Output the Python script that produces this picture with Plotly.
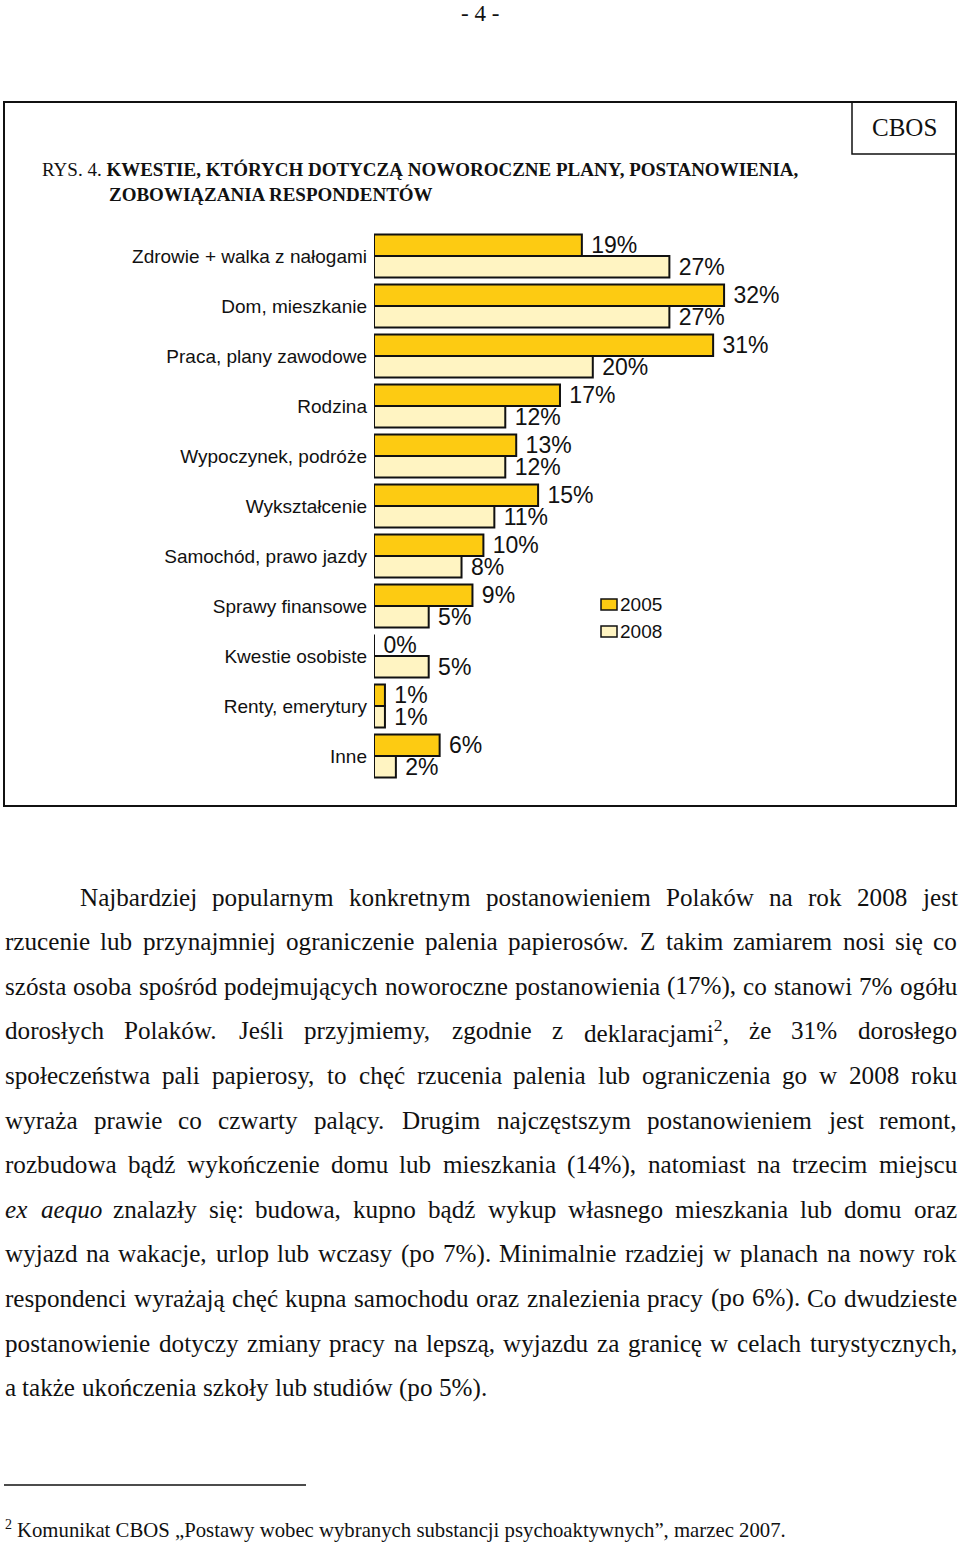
import re
import plotly.graph_objects as go

# ---------------- data ----------------
categories = [
    "Zdrowie + walka z nałogami",
    "Dom, mieszkanie",
    "Praca, plany zawodowe",
    "Rodzina",
    "Wypoczynek, podróże",
    "Wykształcenie",
    "Samochód, prawo jazdy",
    "Sprawy finansowe",
    "Kwestie osobiste",
    "Renty, emerytury",
    "Inne",
]
values_2005 = [19, 32, 31, 17, 13, 15, 10, 9, 0, 1, 6]
values_2008 = [27, 27, 20, 12, 12, 11, 8, 5, 5, 1, 2]
series_names = ["2005", "2008"]

page_number = "- 4 -"
title_line1 = "RYS. 4. <b>KWESTIE, KTÓRYCH DOTYCZĄ NOWOROCZNE PLANY, POSTANOWIENIA,</b>"
title_line2 = "<b>ZOBOWIĄZANIA RESPONDENTÓW</b>"
badge = "CBOS"

body_lines = [
    "Najbardziej popularnym konkretnym postanowieniem Polaków na rok 2008 jest",
    "rzucenie lub przynajmniej ograniczenie palenia papierosów. Z takim zamiarem nosi się co",
    "szósta osoba spośród podejmujących noworoczne postanowienia (17%), co stanowi 7% ogółu",
    "dorosłych Polaków. Jeśli przyjmiemy, zgodnie z deklaracjami<sup>2</sup>, że 31% dorosłego",
    "społeczeństwa pali papierosy, to chęć rzucenia palenia lub ograniczenia go w 2008 roku",
    "wyraża prawie co czwarty palący. Drugim najczęstszym postanowieniem jest remont,",
    "rozbudowa bądź wykończenie domu lub mieszkania (14%), natomiast na trzecim miejscu",
    "<i>ex</i> <i>aequo</i> znalazły się: budowa, kupno bądź wykup własnego mieszkania lub domu oraz",
    "wyjazd na wakacje, urlop lub wczasy (po 7%). Minimalnie rzadziej w planach na nowy rok",
    "respondenci wyrażają chęć kupna samochodu oraz znalezienia pracy (po 6%). Co dwudzieste",
    "postanowienie dotyczy zmiany pracy na lepszą, wyjazdu za granicę w celach turystycznych,",
    "a także ukończenia szkoły lub studiów (po 5%).",
]
footnote_mark = "2"
footnote_text = "Komunikat CBOS „Postawy wobec wybranych substancji psychoaktywnych”, marzec 2007."

# ---------------- page geometry helpers ----------------
W, H = 960, 1545
def px(x):
    return x / W
def py(y):
    return 1 - y / H

SERIF = "Liberation Serif, Times New Roman, serif"
SANS = "Liberation Sans, Arial, sans-serif"
INK = "#111111"
C2005 = "#FDCB12"
C2008 = "#FFF4C2"

# Times-Roman advance widths (per 1000 em) for justification
TW = {' ': 250, '!': 333, '%': 833, '(': 333, ')': 333, '+': 564, ',': 250, '-': 333, '.': 250,
      ':': 278, ';': 278, '„': 444, '”': 444}
for ch in "0123456789":
    TW[ch] = 500
TW.update(dict(zip("ABCDEFGHIJKLMNOPQRSTUVWXYZ",
                   [722, 667, 667, 722, 611, 556, 722, 722, 333, 389, 722, 611, 889, 722, 722, 556,
                    722, 667, 556, 611, 722, 722, 944, 722, 722, 611])))
TW.update(dict(zip("abcdefghijklmnopqrstuvwxyz",
                   [444, 500, 444, 500, 444, 333, 500, 500, 278, 278, 500, 278, 778, 500, 500, 500,
                    500, 333, 389, 278, 500, 500, 722, 500, 500, 444])))
TW.update({'ą': 444, 'ć': 444, 'ę': 444, 'ł': 278, 'ń': 500, 'ó': 500, 'ś': 389, 'ź': 444, 'ż': 444,
           'Ś': 556, 'Ż': 611, 'Ł': 611, 'Ó': 722, 'Ą': 722, 'Ę': 611})

def em_width(html):
    total = 0.0
    for m in re.finditer(r"<sup>(.*?)</sup>|<[^>]+>|([^<]+)", html):
        if m.group(1) is not None:
            total += 0.7 * sum(TW.get(c, 500) for c in m.group(1)) / 1000
        elif m.group(2) is not None:
            total += sum(TW.get(c, 500) for c in m.group(2)) / 1000
    return total

annotations = []
shapes = []

# ---------------- chart ----------------
fig = go.Figure()
for name, vals, col in [(series_names[0], values_2005, C2005), (series_names[1], values_2008, C2008)]:
    fig.add_trace(go.Bar(
        y=categories, x=vals, name=name, orientation="h",
        marker=dict(color=col, line=dict(color="#111111", width=2)),
        text=[f"\u00a0{v}%" for v in vals],
        textposition="outside", constraintext="none", cliponaxis=False,
        textfont=dict(family=SANS, size=23, color=INK),
        showlegend=False, hoverinfo="skip",
    ))

# legend (manual)
for i, (name, col) in enumerate([(series_names[0], C2005), (series_names[1], C2008)]):
    yc = 604.5 + i * 27
    shapes.append(dict(type="rect", xref="paper", yref="paper",
                       x0=px(601), x1=px(617), y0=py(yc - 5.5), y1=py(yc + 5.5),
                       fillcolor=col, line=dict(color="#111111", width=1.5)))
    annotations.append(dict(text=name, x=px(618), y=py(yc), xref="paper", yref="paper",
                            xanchor="left", yanchor="middle", showarrow=False,
                            font=dict(family=SANS, size=19, color=INK)))

# ---------------- page furniture ----------------
annotations.append(dict(text=page_number, x=px(480), y=py(13), xref="paper", yref="paper",
                        xanchor="center", yanchor="middle", showarrow=False,
                        font=dict(family=SERIF, size=23, color=INK)))
shapes.append(dict(type="rect", xref="paper", yref="paper", x0=px(4), x1=px(956),
                   y0=py(806), y1=py(102), line=dict(color="#111111", width=2)))
shapes.append(dict(type="rect", xref="paper", yref="paper", x0=px(852), x1=px(956),
                   y0=py(154), y1=py(102), line=dict(color="#111111", width=1.5)))
annotations.append(dict(text=badge, x=px(904), y=py(127), xref="paper", yref="paper",
                        xanchor="center", yanchor="middle", showarrow=False,
                        font=dict(family=SERIF, size=25, color=INK)))
annotations.append(dict(text=title_line1, x=px(40), y=py(169), xref="paper", yref="paper",
                        xanchor="left", yanchor="middle", showarrow=False,
                        font=dict(family=SERIF, size=19, color=INK)))
annotations.append(dict(text=title_line2, x=px(107), y=py(195), xref="paper", yref="paper",
                        xanchor="left", yanchor="middle", showarrow=False,
                        font=dict(family=SERIF, size=19, color=INK)))

# ---------------- body text (justified) ----------------
body_fs = 482 / em_width(body_lines[-1])
line_y0, line_pitch = 897, 44.6
left, right, indent = 4, 956, 79
for i, line in enumerate(body_lines):
    words = line.split(" ")
    start = indent if i == 0 else left
    widths = [em_width(w) * body_fs for w in words]
    if i < len(body_lines) - 1 and len(words) > 1:
        gap = (right - start - sum(widths)) / (len(words) - 1)
    else:
        gap = 0.25 * body_fs
    x = start
    yc = line_y0 + i * line_pitch
    for w, wd in zip(words, widths):
        annotations.append(dict(text=w, x=px(x), y=py(yc), xref="paper", yref="paper",
                                xanchor="left", yanchor="middle", showarrow=False,
                                borderpad=0, font=dict(family=SERIF, size=body_fs, color=INK)))
        x += wd + gap

# ---------------- footnote ----------------
shapes.append(dict(type="line", xref="paper", yref="paper", x0=px(4), x1=px(306),
                   y0=py(1485), y1=py(1485), line=dict(color="#111111", width=1.5)))
foot_fs = 769 / em_width(footnote_text)
annotations.append(dict(text=footnote_mark, x=px(4), y=py(1524), xref="paper", yref="paper",
                        xanchor="left", yanchor="middle", showarrow=False, borderpad=0,
                        font=dict(family=SERIF, size=14, color=INK)))
annotations.append(dict(text=footnote_text, x=px(16), y=py(1530), xref="paper", yref="paper",
                        xanchor="left", yanchor="middle", showarrow=False, borderpad=0,
                        font=dict(family=SERIF, size=foot_fs, color=INK)))

fig.update_layout(
    width=W, height=H, margin=dict(l=0, r=0, t=0, b=0, pad=0),
    paper_bgcolor="white", plot_bgcolor="white",
    barmode="group", bargap=0.14, bargroupgap=0,
    xaxis=dict(domain=[px(374), px(921)], range=[0, 50], visible=False),
    yaxis=dict(domain=[py(781), py(231)], type="category", range=[10.5, -0.5],
               showgrid=False, zeroline=False, showline=False, ticks="",
               ticklabelstandoff=6,
               tickfont=dict(family=SANS, size=19, color=INK)),
    annotations=annotations, shapes=shapes,
)

fig.write_html("out.html")
